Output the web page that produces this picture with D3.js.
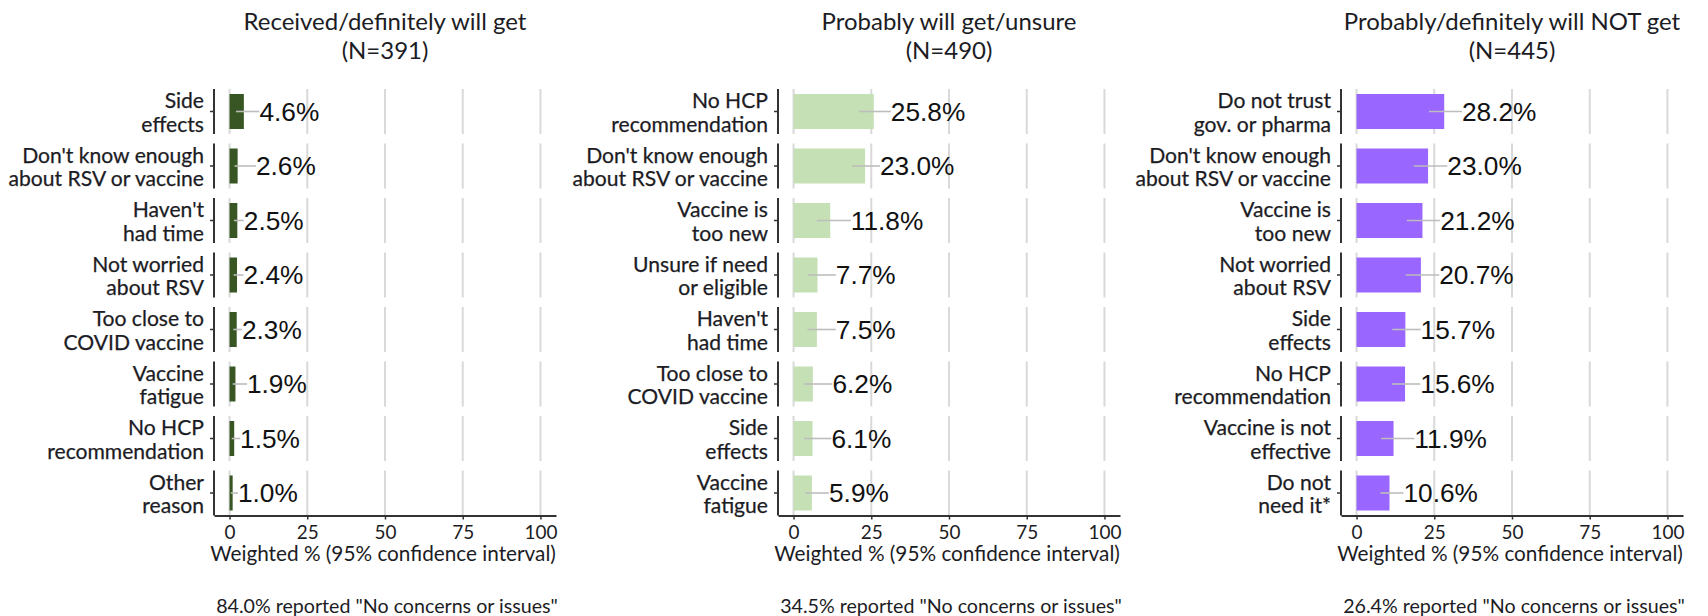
<!DOCTYPE html>
<html>
<head>
<meta charset="utf-8">
<script src="https://cdn.jsdelivr.net/npm/d3@7/dist/d3.min.js"></script>
<style>
  html, body { margin: 0; padding: 0; background: #fff; }
  svg { display: block; }
</style>
</head>
<body>
<svg id="chart" width="1708" height="616"></svg>
<script>
// ---------------- DATA ----------------
const panelTitles = ["Received/definitely will get", "Probably will get/unsure", "Probably/definitely will NOT get"];
const panelN = [391, 490, 445];
const noConcerns = ["84.0%", "34.5%", "26.4%"];
const tickValues = [0, 25, 50, 75, 100];
const xAxisTitle = "Weighted % (95% confidence interval)";

const cats1 = ["Side|effects", "Don't know enough|about RSV or vaccine", "Haven't|had time", "Not worried|about RSV",
               "Too close to|COVID vaccine", "Vaccine|fatigue", "No HCP|recommendation", "Other|reason"];
const vals1 = [4.6, 2.6, 2.5, 2.4, 2.3, 1.9, 1.5, 1.0];
const lo1   = [2.1, 1.6, 1.4, 1.3, 1.2, 1.0, 0.7, 0.4];
const hi1   = [9.6, 8.5, 4.6, 4.5, 4.0, 5.6, 3.4, 2.7];

const cats2 = ["No HCP|recommendation", "Don't know enough|about RSV or vaccine", "Vaccine is|too new", "Unsure if need|or eligible",
               "Haven't|had time", "Too close to|COVID vaccine", "Side|effects", "Vaccine|fatigue"];
const vals2 = [25.8, 23.0, 11.8, 7.7, 7.5, 6.2, 6.1, 5.9];
const lo2   = [21.1, 18.9, 7.5, 4.6, 4.5, 3.4, 3.4, 3.8];
const hi2   = [31.3, 27.8, 18.4, 13.6, 13.6, 12.5, 12.2, 11.4];

const cats3 = ["Do not trust|gov. or pharma", "Don't know enough|about RSV or vaccine", "Vaccine is|too new", "Not worried|about RSV",
               "Side|effects", "No HCP|recommendation", "Vaccine is not|effective", "Do not|need it*"];
const vals3 = [28.2, 23.0, 21.2, 20.7, 15.7, 15.6, 11.9, 10.6];
const lo3   = [23.3, 18.4, 16.2, 15.8, 11.5, 11.4, 7.9, 7.7];
const hi3   = [33.9, 29.2, 26.9, 26.6, 20.6, 20.5, 18.6, 15.1];

const barColors = ["#375623", "#c5e0b4", "#9966ff"];

// ---------------- LAYOUT ----------------
const panelLeft = [214, 778, 1341];
const panelWidth = 342;
const rowTop = 84.25, rowStep = 54.5, nRows = 8;
const rowHalf = 22.5, barHalf = 17.5;

const svg = d3.select("#chart");
const sansFont = "Lato, 'Open Sans', sans-serif";
const valFont = "'Liberation Sans', Arial, sans-serif";
const textColor = "#1c1c24";

// helper: fit font size of a text so its width matches target
function fitSize(str, family, target, base) {
  const t = svg.append("text").attr("font-family", family).attr("font-size", base).text(str);
  const w = t.node().getComputedTextLength();
  t.remove();
  return base * target / w;
}
const titleSize = fitSize(panelTitles[0], sansFont, 283, 24);
const catSize = fitSize("Don't know enough", sansFont, 182, 20);
const tickSize = fitSize("100", sansFont, 33, 20);
const axTitleSize = fitSize(xAxisTitle, sansFont, 346, 20);
const noteSize = fitSize('84.0% reported "No concerns or issues"', sansFont, 342, 18);
const valSize = fitSize("25.8%", valFont, 74.5, 26);

const panels = [
  {cats: cats1, vals: vals1, lo: lo1, hi: hi1},
  {cats: cats2, vals: vals2, lo: lo2, hi: hi2},
  {cats: cats3, vals: vals3, lo: lo3, hi: hi3}
];

panels.forEach((p, pi) => {
  const x0 = panelLeft[pi];
  const x = d3.scaleLinear().domain([-5, 105]).range([x0, x0 + panelWidth]);
  const y = d3.scaleBand().domain(p.cats).range([rowTop, rowTop + rowStep * nRows]).padding(0);
  const rows = p.cats.map((c, i) => ({cat: c, v: p.vals[i], lo: p.lo[i], hi: p.hi[i], cy: y(c) + y.bandwidth() / 2}));
  const g = svg.append("g");

  // title
  g.append("text").attr("x", x0 + panelWidth / 2).attr("y", 20)
    .attr("text-anchor", "middle").attr("dominant-baseline", "central")
    .attr("font-family", sansFont).attr("font-size", titleSize).attr("fill", textColor)
    .text(panelTitles[pi]);
  g.append("text").attr("x", x0 + panelWidth / 2).attr("y", 49)
    .attr("text-anchor", "middle").attr("dominant-baseline", "central")
    .attr("font-family", sansFont).attr("font-size", titleSize).attr("fill", textColor)
    .text("(N=" + panelN[pi] + ")");

  // gridlines per row
  rows.forEach(r => {
    g.selectAll(null).data(tickValues).enter().append("line")
      .attr("x1", d => x(d)).attr("x2", d => x(d))
      .attr("y1", r.cy - rowHalf).attr("y2", r.cy + rowHalf)
      .attr("stroke", "#d9d9d9").attr("stroke-width", 2);
  });

  // bars
  g.selectAll(null).data(rows).enter().append("rect")
    .attr("x", x(0)).attr("y", d => d.cy - barHalf)
    .attr("width", d => x(d.v) - x(0)).attr("height", barHalf * 2)
    .attr("fill", barColors[pi]);

  // CI lines
  g.selectAll(null).data(rows).enter().append("line")
    .attr("x1", d => x(d.lo)).attr("x2", d => x(d.hi))
    .attr("y1", d => d.cy).attr("y2", d => d.cy)
    .attr("stroke", "#bdbdbd").attr("stroke-width", 1.6);

  // value labels
  g.selectAll(null).data(rows).enter().append("text")
    .attr("x", d => x(d.hi)).attr("y", d => d.cy)
    .attr("dominant-baseline", "central")
    .attr("font-family", valFont).attr("font-size", valSize).attr("fill", "#111")
    .text(d => d.v.toFixed(1) + "%");

  // y axis segments + ticks + category labels
  rows.forEach(r => {
    g.append("line").attr("x1", x0).attr("x2", x0)
      .attr("y1", r.cy - rowHalf).attr("y2", r.cy + rowHalf)
      .attr("stroke", "#333").attr("stroke-width", 2);
    g.append("line").attr("x1", x0 - 4).attr("x2", x0)
      .attr("y1", r.cy).attr("y2", r.cy)
      .attr("stroke", "#333").attr("stroke-width", 1.5);
    const lines = r.cat.split("|");
    const t = g.append("text").attr("x", x0 - 10).attr("y", r.cy)
      .attr("text-anchor", "end").attr("font-family", sansFont)
      .attr("font-size", catSize).attr("fill", textColor)
      .attr("stroke", textColor).attr("stroke-width", 0.25);
    const lh = 23.6;
    lines.forEach((ln, li) => {
      t.append("tspan").attr("x", x0 - 10)
        .attr("y", r.cy + (li - (lines.length - 1) / 2) * lh)
        .attr("dominant-baseline", "central").text(ln);
    });
  });

  // x axis
  const axisY = rowTop + rowStep * (nRows - 1) + rowStep / 2 + rowHalf;
  const ax = g.append("g").attr("transform", `translate(0,${axisY})`)
    .call(d3.axisBottom(x).tickValues(tickValues).tickSize(4).tickSizeOuter(0).tickPadding(3));
  ax.select(".domain").attr("stroke", "#333").attr("stroke-width", 2);
  ax.selectAll(".tick line").attr("stroke", "#333").attr("stroke-width", 1.5);
  ax.selectAll(".tick text").attr("font-family", sansFont).attr("font-size", tickSize)
    .attr("fill", textColor).attr("y", 16).attr("dy", null).attr("dominant-baseline", "central");

  g.append("text").attr("x", x0 + panelWidth / 2 - 2).attr("y", 553)
    .attr("text-anchor", "middle").attr("dominant-baseline", "central")
    .attr("font-family", sansFont).attr("font-size", axTitleSize).attr("fill", textColor)
    .text(xAxisTitle);

  g.append("text").attr("x", x0 + panelWidth / 2 + 2).attr("y", 605)
    .attr("text-anchor", "middle").attr("dominant-baseline", "central")
    .attr("font-family", sansFont).attr("font-size", noteSize).attr("fill", textColor)
    .text(noConcerns[pi] + ' reported "No concerns or issues"');
});
</script>
</body>
</html>
